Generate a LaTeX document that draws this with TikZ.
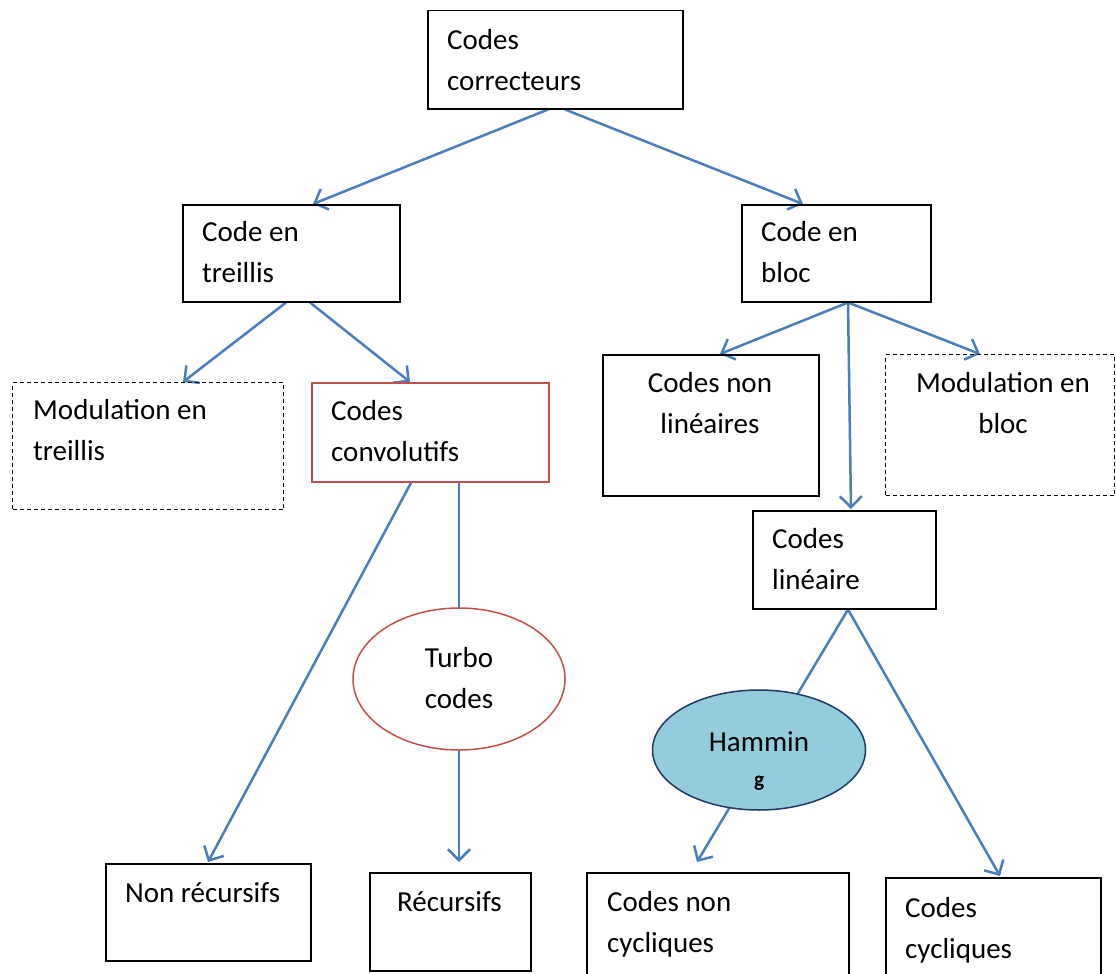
\documentclass[tikz,border=0pt]{standalone}
\usepackage{fontspec}
\setmainfont{Carlito}
\newfontfamily\heavyg{Carlito}[FakeBold=2]
\usetikzlibrary{arrows.meta,shapes.geometric}
\pgfdeclarelayer{background}
\pgfsetlayers{background,main}
\definecolor{linkblue}{HTML}{4A7EBB}
\definecolor{boxred}{HTML}{C0504D}
\definecolor{hamfill}{HTML}{93CDDD}
\definecolor{hamline}{HTML}{1F3864}
\tikzset{
  box/.style={draw=black, line width=1.5pt, anchor=north west, inner sep=0pt},
  dashbox/.style={box, line width=1.3pt, dash pattern=on 4pt off 3pt},
  redbox/.style={box, draw=boxred, line width=1.8pt},
  % multi-line labels are placed by the baseline of their last line
  lbl/.style={anchor=base west, inner sep=0pt, align=left,
              font=\fontsize{29}{41}\selectfont},
  clbl/.style={lbl, anchor=base, align=center},
  link/.style={draw=linkblue, line width=2.5pt,
               -{Straight Barb[length=11pt,width=22pt]}}
}
\begin{document}
\begin{tikzpicture}[x=1pt,y=-1pt]
\useasboundingbox (0,0) rectangle (1116,974);
\clip (0,0) rectangle (1116,974);

% boxes
\node[box, minimum width=255pt, minimum height=98pt] (cc) at (427,10) {};
\node[box, minimum width=217pt, minimum height=97pt] (tr) at (182,204) {};
\node[box, minimum width=189pt, minimum height=97pt] (bl) at (741,204) {};
\node[dashbox, minimum width=271pt, minimum height=127pt] (mt) at (12,382) {};
\node[redbox, minimum width=237pt, minimum height=99pt] (cv) at (311,382) {};
\node[box, minimum width=216pt, minimum height=141pt] (nl) at (602,354) {};
\node[dashbox, minimum width=229pt, minimum height=141pt] (mb) at (885,354) {};
\node[box, minimum width=183pt, minimum height=98pt] (li) at (752,510) {};
\node[ellipse, draw=boxred, fill=white, line width=1.5pt, inner sep=0pt,
      minimum width=212pt, minimum height=142pt] (tb) at (459,679) {};
\node[ellipse, draw=hamline, fill=hamfill, line width=1.5pt, inner sep=0pt,
      minimum width=213pt, minimum height=120pt] (hm) at (759,750) {};
\node[box, minimum width=205pt, minimum height=97pt] (nr) at (105,863) {};
\node[box, minimum width=161pt, minimum height=98pt] (rc) at (369,872) {};
\node[box, minimum width=262pt, minimum height=130pt] (nc) at (586,872) {};
\node[box, minimum width=215pt, minimum height=125pt] (cy) at (885,877) {};

% texts
\node[lbl] (cc-t) at (447,90) {Codes\\correcteurs};
\node[lbl] (tr-t) at (202,282) {Code en\\treillis};
\node[lbl] (bl-t) at (761,282) {Code en\\bloc};
\node[lbl] (mt-t) at (33,460) {Modulation en\\treillis};
\node[lbl] (cv-t) at (331,461) {Codes\\convolutifs};
\node[clbl] (nl-t) at (710,433) {Codes non\\linéaires};
\node[clbl] (mb-t) at (1003,433) {Modulation en\\bloc};
\node[lbl] (li-t) at (772,589) {Codes\\linéaire};
\node[clbl] (tb-t) at (459,708) {Turbo\\codes};
\node[clbl] (hm-t) at (759,751) {Hammin};
\node[inner sep=0pt, anchor=base, font=\heavyg\fontsize{21}{22}\selectfont] (hm-g) at (759,786) {g};
\node[lbl] (nr-t) at (125,902) {Non récursifs};
\node[lbl] (rc-t) at (397,911) {Récursifs};
\node[lbl] (nc-t) at (607,952) {Codes non\\cycliques};
\node[lbl] (cy-t) at (905,958) {Codes\\cycliques};

% connectors
\begin{pgfonlayer}{background}
\draw[link] ([xshift=121pt]cc.south west) -- ([xshift=131pt]tr.north west);
\draw[link] ([xshift=138pt]cc.south west) -- ([xshift=62pt]bl.north west);
\draw[link] ([xshift=104pt]tr.south west) -- ([xshift=171pt]mt.north west);
\draw[link] ([xshift=128pt]tr.south west) -- ([xshift=99pt]cv.north west);
\draw[link] ([xshift=107pt]bl.south west) -- ([xshift=118pt]nl.north west);
\draw[link] ([xshift=107pt]bl.south west) -- ([xshift=95pt]mb.north west);
\draw[link] ([xshift=107pt]bl.south west) -- ([xshift=99pt,yshift=1pt]li.north west);
\draw[link] ([xshift=100pt]cv.south west) -- ([xshift=103pt,yshift=1pt]nr.north west);
\draw[link] ([xshift=148pt]cv.south west) -- ([xshift=90pt,yshift=10pt]rc.north west);
\draw[link] ([xshift=96pt]li.south west) -- ([xshift=111pt,yshift=10pt]nc.north west);
\draw[link] ([xshift=96pt]li.south west) -- ([xshift=115pt,yshift=1pt]cy.north west);
\end{pgfonlayer}
\end{tikzpicture}
\end{document}
